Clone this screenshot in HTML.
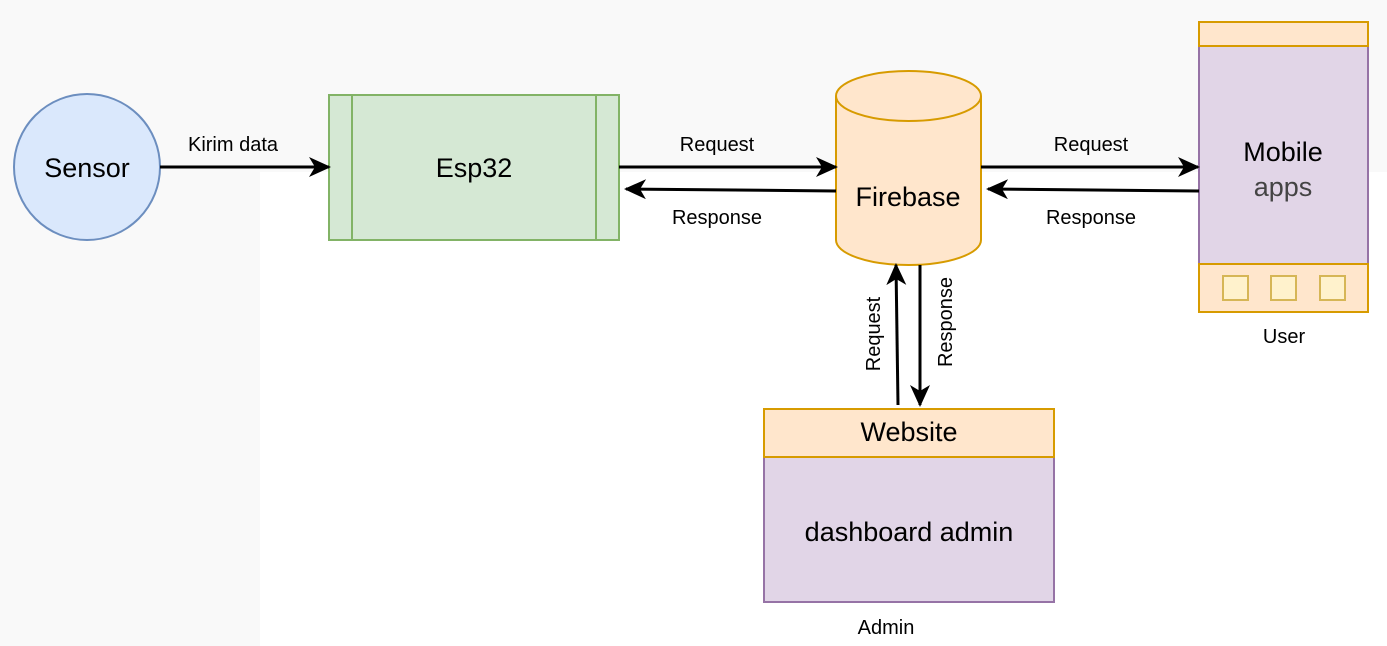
<!DOCTYPE html>
<html><head><meta charset="utf-8"><style>
html,body{margin:0;padding:0;background:#f9f9f9;}
svg{display:block;font-family:"Liberation Sans",Arial,sans-serif;}
</style></head><body>
<svg width="1387" height="646" viewBox="0 0 1387 646">
<defs>
<marker id="a" markerWidth="22" markerHeight="20" refX="20" refY="10" orient="auto" markerUnits="userSpaceOnUse">
<path d="M0,0 L22,10 L0,20 L6,10 Z" fill="#000"/></marker>
</defs>
<rect x="0" y="0" width="1387" height="646" fill="#f9f9f9"/>
<rect x="260" y="172" width="1127" height="474" fill="#ffffff"/>
<!-- Sensor -->
<circle cx="87" cy="167" r="73" fill="#dae8fc" stroke="#6c8ebf" stroke-width="2"/>
<text x="87" y="177" font-size="27" text-anchor="middle">Sensor</text>
<!-- Esp32 -->
<rect x="329" y="95" width="290" height="145" fill="#d5e8d4" stroke="#82b366" stroke-width="2"/>
<line x1="352" y1="95" x2="352" y2="240" stroke="#82b366" stroke-width="2"/>
<line x1="596" y1="95" x2="596" y2="240" stroke="#82b366" stroke-width="2"/>
<text x="474" y="177" font-size="27" text-anchor="middle">Esp32</text>
<!-- Firebase -->
<path d="M836,96 L836,240 A72.5,25 0 0 0 981,240 L981,96" fill="#ffe6cc" stroke="#d79b00" stroke-width="2"/>
<ellipse cx="908.5" cy="96" rx="72.5" ry="25" fill="#ffe6cc" stroke="#d79b00" stroke-width="2"/>
<text x="908" y="206" font-size="27" text-anchor="middle">Firebase</text>
<!-- Mobile -->
<rect x="1199" y="22" width="169" height="290" fill="#e1d5e7" stroke="#9673a6" stroke-width="2"/>
<rect x="1199" y="22" width="169" height="24" fill="#ffe6cc" stroke="#d79b00" stroke-width="2"/>
<rect x="1199" y="264" width="169" height="48" fill="#ffe6cc" stroke="#d79b00" stroke-width="2"/>
<rect x="1223" y="276" width="25" height="24" fill="#fff2cc" stroke="#d6b656" stroke-width="2"/>
<rect x="1271" y="276" width="25" height="24" fill="#fff2cc" stroke="#d6b656" stroke-width="2"/>
<rect x="1320" y="276" width="25" height="24" fill="#fff2cc" stroke="#d6b656" stroke-width="2"/>
<text x="1283" y="161" font-size="27" text-anchor="middle">Mobile</text>
<text x="1283" y="196" font-size="27" text-anchor="middle" fill="#444">apps</text>
<text x="1284" y="343" font-size="20" text-anchor="middle">User</text>
<!-- Website -->
<rect x="764" y="409" width="290" height="193" fill="#e1d5e7" stroke="#9673a6" stroke-width="2"/>
<rect x="764" y="409" width="290" height="48" fill="#ffe6cc" stroke="#d79b00" stroke-width="2"/>
<text x="909" y="441" font-size="27" text-anchor="middle">Website</text>
<text x="909" y="541" font-size="27" text-anchor="middle">dashboard admin</text>
<text x="886" y="634" font-size="20" text-anchor="middle">Admin</text>
<!-- arrows -->
<g stroke="#000" stroke-width="3" fill="none">
<line x1="160" y1="167" x2="329" y2="167" marker-end="url(#a)"/>
<line x1="619" y1="167" x2="836" y2="167" marker-end="url(#a)"/>
<line x1="836" y1="191" x2="626" y2="189" marker-end="url(#a)"/>
<line x1="981" y1="167" x2="1198" y2="167" marker-end="url(#a)"/>
<line x1="1199" y1="191" x2="988" y2="189" marker-end="url(#a)"/>
<line x1="898" y1="405" x2="896" y2="265" marker-end="url(#a)"/>
<line x1="920" y1="265" x2="920" y2="405" marker-end="url(#a)"/>
</g>
<g font-size="20">
<text x="233" y="151" text-anchor="middle">Kirim data</text>
<text x="717" y="151" text-anchor="middle">Request</text>
<text x="717" y="224" text-anchor="middle">Response</text>
<text x="1091" y="151" text-anchor="middle">Request</text>
<text x="1091" y="224" text-anchor="middle">Response</text>
<text transform="translate(880,334) rotate(-90)" text-anchor="middle">Request</text>
<text transform="translate(952,322) rotate(-90)" text-anchor="middle">Response</text>
</g>
</svg>
</body></html>
